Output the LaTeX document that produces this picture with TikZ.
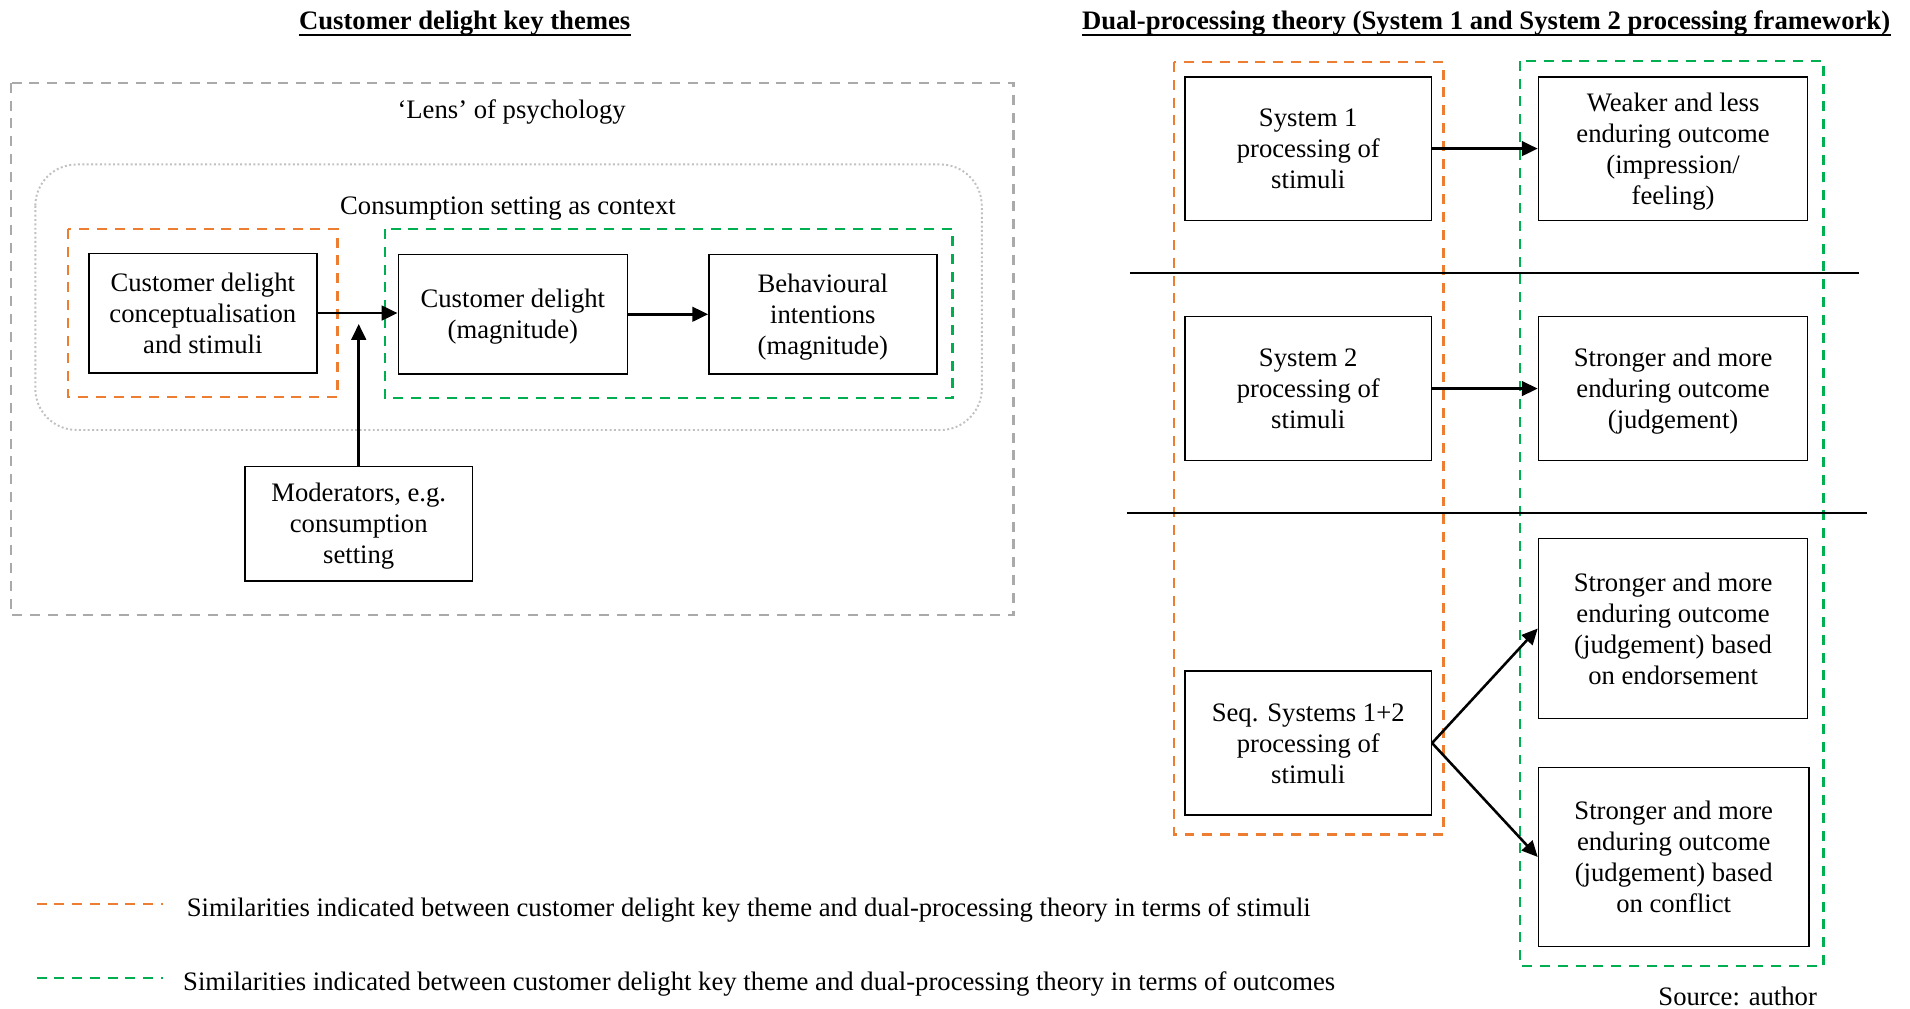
\documentclass[tikz,border=0pt]{standalone}
\usepackage{fontspec}
\setmainfont{Liberation Serif}
\usetikzlibrary{arrows.meta}
\definecolor{stimorange}{RGB}{237,125,49}
\definecolor{outgreen}{RGB}{0,176,80}
\definecolor{lensgrey}{RGB}{170,170,170}
\definecolor{ctxgrey}{RGB}{192,192,192}
% fixed first-line height and last-line depth, so every box centres its lines alike
\newcommand\boxtop{\rule{0pt}{10pt}}
\newcommand\boxbot{\rule[-2.5pt]{0pt}{0pt}}
\begin{document}
\begin{tikzpicture}[x=0.5pt,y=-0.5pt,
  every node/.style={font=\fontsize{10.95}{12.75}\selectfont},
  box/.style={draw, line width=0.65pt, align=center, inner sep=0pt},
  sz/.style 2 args={minimum width=#1*0.5pt, minimum height=#2*0.5pt},
  dashgrp/.style={line width=0.9pt, dash pattern=on 4.1pt off 3.2pt},
  orangegrp/.style={dashgrp, draw=stimorange},
  greengrp/.style={dashgrp, draw=outgreen},
  lensframe/.style={dashgrp, draw=lensgrey},
  ctxframe/.style={draw=ctxgrey, line width=0.8pt, dash pattern=on 0.8pt off 1pt, rounded corners=17pt},
  flow/.style={line width=1.05pt, -{Triangle[length=6.5pt,width=6pt]}},
  divider/.style={line width=0.8pt},
  title/.style={font=\fontsize{10.95}{12.75}\selectfont\bfseries, inner sep=0pt, anchor=base},
  plain/.style={inner sep=0pt}
]
\useasboundingbox (0,0) rectangle (1568,828);

% ---------- headings ----------
\node[title] (tl) at (381.5,24.5) {Customer delight key themes};
\draw[line width=0.7pt] ([yshift=-2pt]tl.base west) -- ([yshift=-2pt]tl.base east);
\node[title] (tr) at (1220,24.5) {Dual-processing theory (System 1 and System 2 processing framework)};
\draw[line width=0.7pt] ([yshift=-2pt]tr.base west) -- ([yshift=-2pt]tr.base east);

% ---------- customer delight key themes ----------
\draw[lensframe] (9,68) rectangle (832,505);
\node[plain] (lens) at (420,92) {‘Lens’ of psychology};
\draw[ctxframe] (29,135) rectangle (806,353);
\node[plain] (ctx) at (417,171) {Consumption setting as context};
\draw[orangegrp] (56,188) rectangle (277,326);
\draw[greengrp] (316,188) rectangle (782,327);

\node[box, sz={187}{98}] (b1) at (166.5,257) {\boxtop Customer delight\\conceptualisation\\and stimuli\boxbot};
\node[box, sz={188}{98}] (b2) at (421,258) {\boxtop Customer delight\\(magnitude)\boxbot};
\node[box, sz={187}{98}] (b3) at (675.5,258) {\boxtop Behavioural\\intentions\\(magnitude)\boxbot};
\node[box, sz={187}{94}] (mod) at (294.5,430) {\boxtop Moderators, e.g.\\consumption\\setting\boxbot};

\draw[flow] (b1.east) -- (b1.east -| b2.west);
\draw[flow] (b2.east) -- (b3.west);
\coordinate (modtip) at (294.5,266);
\draw[flow] (mod.north) -- (modtip);

% ---------- dual-processing theory ----------
\draw[orangegrp] (964,51) rectangle (1185,685);
\draw[greengrp] (1248,50) rectangle (1497,793);

\coordinate (d1a) at (928,224);
\coordinate (d1b) at (1526,224);
\draw[divider] (d1a) -- (d1b);
\coordinate (d2a) at (925,421);
\coordinate (d2b) at (1533,421);
\draw[divider] (d2a) -- (d2b);

\node[box, sz={202}{118}] (s1) at (1074,122) {\boxtop System 1\\processing of\\stimuli\boxbot};
\node[box, sz={221}{118}] (w1) at (1373.5,122) {\boxtop Weaker and less\\enduring outcome\\(impression/\\feeling)\boxbot};
\node[box, sz={202}{118}] (s2) at (1074,319) {\boxtop System 2\\processing of\\stimuli\boxbot};
\node[box, sz={221}{118}] (w2) at (1373.5,319) {\boxtop Stronger and more\\enduring outcome\\(judgement)\boxbot};
\node[box, sz={221}{148}] (en) at (1373.5,516) {\boxtop Stronger and more\\enduring outcome\\(judgement) based\\on endorsement\boxbot};
\node[box, sz={202}{118}] (seq) at (1074,610) {\boxtop Seq. Systems 1+2\\processing of\\stimuli\boxbot};
\node[box, sz={222}{147}] (cf) at (1374,703.5) {\boxtop Stronger and more\\enduring outcome\\(judgement) based\\on conflict\boxbot};

\draw[flow] (s1.east) -- (w1.west);
\draw[flow] (s2.east) -- (w2.west);
\draw[flow] (seq.east) -- (en.west);
\draw[flow] (seq.east) -- (cf.west);

% ---------- key ----------
\coordinate (ko1) at (30,742);
\coordinate (ko2) at (134,742);
\draw[orangegrp] (ko1) -- (ko2);
\node[plain, anchor=west] (lgo) at (153,747) {Similarities indicated between customer delight key theme and dual-processing theory in terms of stimuli};
\coordinate (kg1) at (30,803);
\coordinate (kg2) at (134,803);
\draw[greengrp] (kg1) -- (kg2);
\node[plain, anchor=west] (lgg) at (150,808) {Similarities indicated between customer delight key theme and dual-processing theory in terms of outcomes};

\node[plain, anchor=east] (src) at (1492,818) {Source: author};
\end{tikzpicture}
\end{document}
